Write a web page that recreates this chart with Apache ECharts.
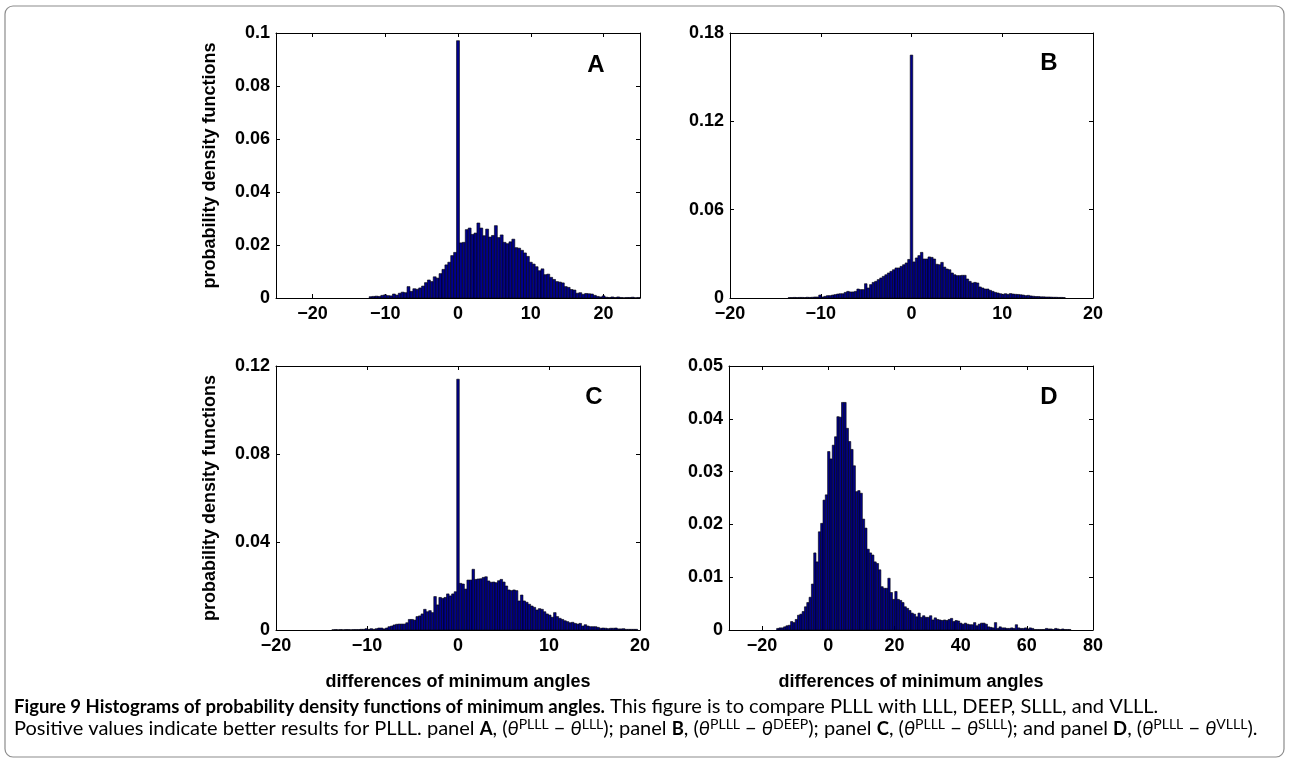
<!DOCTYPE html>
<html>
<head>
<meta charset="utf-8">
<script src="https://cdn.jsdelivr.net/npm/echarts@6/dist/echarts.min.js"></script>
<style>
  html, body { margin: 0; padding: 0; background: #fff; }
  #chart { width: 1291px; height: 764px; }
</style>
</head>
<body>
<div id="chart"></div>
<script>
// Histogram bins: left edge of first bin, bin width, and bar heights (pdf values)
const binStartA = -12.2, binWidthA = 0.4;
const pdfA = [
  0.0005,0.0006,0.0007,0.0006,0.0010,0.0012,0.0009,0.0008,0.0015,0.0011,
  0.0018,0.0022,0.0020,0.0043,0.0025,0.0035,0.0033,0.0038,0.0045,0.0058,
  0.0068,0.0062,0.0080,0.0075,0.0092,0.0108,0.0125,0.0135,0.0160,0.0172,
  0.0971,
  0.0208,0.0210,0.0258,0.0264,0.0240,0.0245,0.0283,0.0264,0.0235,0.0260,
  0.0230,0.0236,0.0273,0.0228,0.0238,0.0210,0.0205,0.0212,0.0222,0.0190,
  0.0188,0.0180,0.0170,0.0157,0.0135,0.0128,0.0118,0.0103,0.0110,0.0088,
  0.0090,0.0078,0.0070,0.0062,0.0060,0.0057,0.0043,0.0040,0.0032,0.0030,
  0.0018,0.0020,0.0014,0.0017,0.0016,0.0015,0.0010,0.0006,0.0004,0.0008,
  0.0003,0.0002,0.0004,0.0002,0.0004,0.0002,0.0001,0.0002,0.0002,0.0003,
  0.0001,0.0002
];

const binStartB = -13.58, binWidthB = 0.28;
const pdfB = [
  0.0003,0.0003,0.0004,0.0003,0.0004,0.0004,0.0003,0.0005,0.0004,0.0005,
  0.0007,0.0007,0.0020,0.0007,0.0011,0.0016,0.0016,0.0020,0.0023,0.0027,
  0.0029,0.0029,0.0038,0.0045,0.0041,0.0041,0.0045,0.0061,0.0057,0.0057,
  0.0097,0.0068,0.0091,0.0106,0.0113,0.0125,0.0136,0.0147,0.0158,0.0170,
  0.0181,0.0192,0.0204,0.0204,0.0215,0.0226,0.0238,0.0262,
  0.1650,
  0.0245,0.0272,0.0288,0.0310,0.0265,0.0265,0.0279,0.0276,0.0265,0.0229,
  0.0226,0.0242,0.0210,0.0197,0.0192,0.0170,0.0158,0.0152,0.0152,0.0154,
  0.0154,0.0129,0.0113,0.0102,0.0106,0.0102,0.0075,0.0068,0.0061,0.0061,
  0.0052,0.0045,0.0038,0.0034,0.0029,0.0025,0.0029,0.0025,0.0030,0.0027,
  0.0025,0.0024,0.0022,0.0020,0.0016,0.0018,0.0014,0.0012,0.0010,0.0010,
  0.0008,0.0008,0.0007,0.0007,0.0006,0.0005,0.0005,0.0004,0.0004,0.0003
];

const binStartC = -13.86, binWidthC = 0.28;
const pdfC = [
  0.0001,0.0002,0.0001,0.0002,0.0001,0.0002,0.0002,0.0001,0.0002,0.0002,
  0.0002,0.0003,0.0003,0.0006,0.0003,0.0006,0.0003,0.0006,0.0009,0.0009,
  0.0005,0.0009,0.0015,0.0018,0.0023,0.0026,0.0027,0.0027,0.0027,0.0033,
  0.0048,0.0048,0.0045,0.0061,0.0064,0.0073,0.0094,0.0083,0.0088,0.0079,
  0.0152,0.0114,0.0148,0.0144,0.0148,0.0164,0.0155,0.0164,0.0174,
  0.1140,
  0.0212,0.0209,0.0186,0.0227,0.0227,0.0276,0.0230,0.0232,0.0233,0.0239,
  0.0242,0.0223,0.0217,0.0218,0.0215,0.0224,0.0230,0.0218,0.0200,0.0182,
  0.0179,0.0182,0.0179,0.0132,0.0159,0.0132,0.0126,0.0117,0.0109,0.0103,
  0.0091,0.0097,0.0094,0.0083,0.0073,0.0068,0.0058,0.0079,0.0061,0.0053,
  0.0048,0.0042,0.0038,0.0033,0.0035,0.0030,0.0027,0.0030,0.0018,0.0024,
  0.0018,0.0015,0.0015,0.0015,0.0012,0.0008,0.0009,0.0008,0.0006,0.0008,
  0.0008,0.0009,0.0005,0.0005,0.0006,0.0003,0.0003,0.0003,0.0003,0.0003
];

const binStartD = -15.6, binWidthD = 0.7;
const pdfD = [
  0.0003,0.0004,0.0004,0.0006,0.0008,0.0009,0.0016,0.0014,0.0020,0.0028,
  0.0030,0.0035,0.0044,0.0052,0.0062,0.0087,0.0146,0.0129,0.0186,0.0202,
  0.0246,0.0256,0.0338,0.0324,0.0350,0.0366,0.0404,0.0403,0.0431,0.0431,
  0.0382,0.0357,0.0342,0.0311,0.0262,0.0264,0.0259,0.0210,0.0193,0.0153,
  0.0146,0.0142,0.0129,0.0126,0.0114,0.0082,0.0079,0.0079,0.0098,0.0071,
  0.0058,0.0073,0.0058,0.0056,0.0052,0.0044,0.0041,0.0037,0.0032,0.0030,
  0.0025,0.0032,0.0024,0.0027,0.0024,0.0024,0.0027,0.0019,0.0023,0.0020,
  0.0019,0.0018,0.0019,0.0018,0.0020,0.0022,0.0016,0.0018,0.0017,0.0013,
  0.0011,0.0013,0.0011,0.0010,0.0010,0.0014,0.0008,0.0011,0.0013,0.0013,
  0.0011,0.0006,0.0005,0.0004,0.0014,0.0003,0.0006,0.0004,0.0004,0.0003,
  0.0003,0.0004,0.0003,0.0010,0.0004,0.0003,0.0003,0.0004,0.0002,0.0004,
  0.0003,0.0001,0.0001,0.0001,0.0001,0.0001,0.0003,0.0002,0.0002,0.0001,
  0.0003,0.0002,0.0001,0.0002,0.0001,0.0001,0.0001
];

// Axis ranges and tick values
const xRangeA = [-25, 25], xTicksA = [-20, -10, 0, 10, 20];
const xRangeB = [-20, 20], xTicksB = [-20, -10, 0, 10, 20];
const xRangeC = [-20, 20], xTicksC = [-20, -10, 0, 10, 20];
const xRangeD = [-30, 80], xTicksD = [-20, 0, 20, 40, 60, 80];
const yMaxA = 0.1,  yStepA = 0.02;
const yMaxB = 0.18, yStepB = 0.06;
const yMaxC = 0.12, yStepC = 0.04;
const yMaxD = 0.05, yStepD = 0.01;

const panelLetters = ['A', 'B', 'C', 'D'];
const yAxisTitle = 'probability density functions';
const xAxisTitle = 'differences of minimum angles';

const FONT = 'Liberation Sans, Arial, Helvetica, sans-serif';

function toBins(start, width, values) {
  return values.map((v, i) => [start + i * width, start + (i + 1) * width, v]);
}

function renderBar(params, api) {
  const p0 = api.coord([api.value(0), api.value(2)]);
  const p1 = api.coord([api.value(1), 0]);
  return {
    type: 'rect',
    shape: { x: p0[0], y: p0[1], width: p1[0] - p0[0], height: p1[1] - p0[1] },
    style: { fill: '#00008c', stroke: '#000', lineWidth: 0.6 }
  };
}

const minusFmt = v => (v < 0 ? '\u2212' + Math.abs(v) : String(v));

const panels = [
  { grid: { left: 276, top: 33, width: 364, height: 265 }, xr: xRangeA, xt: xTicksA, ymax: yMaxA, ys: yStepA, bins: toBins(binStartA, binWidthA, pdfA), yName: true,  xName: false },
  { grid: { left: 730, top: 33, width: 363, height: 265 }, xr: xRangeB, xt: xTicksB, ymax: yMaxB, ys: yStepB, bins: toBins(binStartB, binWidthB, pdfB), yName: false, xName: false },
  { grid: { left: 276, top: 366, width: 364, height: 264 }, xr: xRangeC, xt: xTicksC, ymax: yMaxC, ys: yStepC, bins: toBins(binStartC, binWidthC, pdfC), yName: true,  xName: true },
  { grid: { left: 729, top: 366, width: 364, height: 264 }, xr: xRangeD, xt: xTicksD, ymax: yMaxD, ys: yStepD, bins: toBins(binStartD, binWidthD, pdfD), yName: false, xName: true }
];

const grids = [], xAxes = [], yAxes = [], series = [];
const lineStyle = { color: '#000', width: 1 };
const tickStyle = { color: '#000', width: 1 };
const labelFont = { color: '#000', fontFamily: FONT, fontWeight: 'bold', fontSize: 18 };

panels.forEach((p, i) => {
  grids.push(Object.assign({ containLabel: false }, p.grid));
  // bottom x axis with labels
  xAxes.push({
    type: 'value', gridIndex: i, position: 'bottom', min: p.xr[0], max: p.xr[1],
    axisLine: { show: true, onZero: false, lineStyle },
    axisTick: { show: true, inside: true, length: 4, lineStyle: tickStyle, customValues: p.xt },
    axisLabel: Object.assign({ show: true, customValues: p.xt, formatter: minusFmt, margin: 7 }, labelFont),
    splitLine: { show: false },
    name: p.xName ? xAxisTitle : '', nameLocation: 'middle', nameGap: 43,
    nameTextStyle: labelFont
  });
  // top x axis: box edge with inward ticks
  xAxes.push({
    type: 'value', gridIndex: i, position: 'top', min: p.xr[0], max: p.xr[1],
    axisLine: { show: true, onZero: false, lineStyle },
    axisTick: { show: true, inside: true, length: 4, lineStyle: tickStyle, customValues: p.xt },
    axisLabel: { show: false },
    splitLine: { show: false }
  });
  // left y axis with labels
  yAxes.push({
    type: 'value', gridIndex: i, position: 'left', min: 0, max: p.ymax, interval: p.ys,
    axisLine: { show: true, onZero: false, lineStyle },
    axisTick: { show: true, inside: true, length: 4, lineStyle: tickStyle },
    axisLabel: Object.assign({ show: true, margin: 6 }, labelFont),
    splitLine: { show: false },
    name: p.yName ? yAxisTitle : '', nameLocation: 'middle', nameGap: 57, nameRotate: 90,
    nameTextStyle: labelFont
  });
  // right y axis: box edge with inward ticks
  yAxes.push({
    type: 'value', gridIndex: i, position: 'right', min: 0, max: p.ymax, interval: p.ys,
    axisLine: { show: true, onZero: false, lineStyle },
    axisTick: { show: true, inside: true, length: 4, lineStyle: tickStyle },
    axisLabel: { show: false },
    splitLine: { show: false }
  });
  series.push({
    type: 'custom', xAxisIndex: i * 2, yAxisIndex: i * 2,
    renderItem: renderBar, clip: true, silent: true,
    encode: { x: [0, 1], y: 2 },
    data: p.bins
  });
});

const letterPos = [[596, 65], [1049, 63], [594, 397], [1049, 397]];
const graphics = letterPos.map((pos, i) => ({
  type: 'text', x: pos[0], y: pos[1],
  style: { text: panelLetters[i], fill: '#000', font: 'bold 24px ' + FONT, align: 'center', verticalAlign: 'middle' }
}));

// Figure frame
graphics.push({
  type: 'rect', shape: { x: 5, y: 6, width: 1279, height: 751, r: 8 },
  style: { fill: 'none', stroke: '#8c8c8c', lineWidth: 1.2 }, z: -1
});

// Caption
const capFont = 'Lato, "Open Sans", sans-serif';
const capSize = 20;
graphics.push({
  type: 'text', x: 14, y: 696,
  style: {
    text:
      '{b|Figure 9 Histograms of probability density functions of minimum angles.}{n| This figure is to compare PLLL with LLL, DEEP, SLLL, and VLLL.}\n' +
      '{n|Positive values indicate better results for PLLL. panel }{b|A}{n|, (}{i|\u03b8}{s|PLLL}{n| \u2212 }{i|\u03b8}{s|LLL}{n|); panel }{b|B}{n|, (}{i|\u03b8}{s|PLLL}{n| \u2212 }{i|\u03b8}{s|DEEP}{n|); panel }{b|C}{n|, (}{i|\u03b8}{s|PLLL}{n| \u2212 }{i|\u03b8}{s|SLLL}{n|); and panel }{b|D}{n|, (}{i|\u03b8}{s|PLLL}{n| \u2212 }{i|\u03b8}{s|VLLL}{n|).}',
    fill: '#000',
    rich: {
      b: { fontFamily: capFont, fontWeight: 'bold', fontSize: 18.5, lineHeight: 22, fill: '#000' },
      n: { fontFamily: capFont, fontSize: capSize, lineHeight: 22, fill: '#000' },
      i: { fontFamily: capFont, fontStyle: 'italic', fontSize: capSize, lineHeight: 22, fill: '#000' },
      s: { fontFamily: capFont, fontSize: 14, lineHeight: 22, padding: [0, 0, 10, 0], fill: '#000' }
    }
  }
});

const chart = echarts.init(document.getElementById('chart'), null, { renderer: 'canvas' });
chart.setOption({
  animation: false,
  backgroundColor: '#fff',
  grid: grids,
  xAxis: xAxes,
  yAxis: yAxes,
  series: series,
  graphic: graphics
});
</script>
</body>
</html>
